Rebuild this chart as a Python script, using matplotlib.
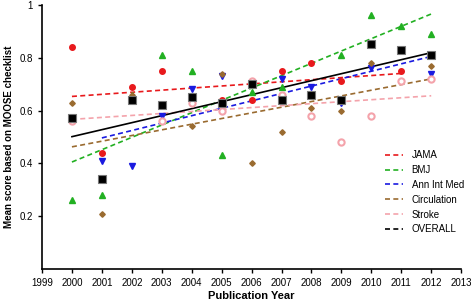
import numpy as np
import matplotlib.pyplot as plt
from matplotlib.lines import Line2D

plt.rcParams['font.family'] = ['Liberation Sans', 'DejaVu Sans']

nan = np.nan
years = np.arange(2000, 2013)

# mean MOOSE scores per journal and year (nan = no paper that year)
jama     = [0.84, 0.44, 0.69, 0.75, 0.64, 0.64, 0.64, 0.75, 0.78, 0.71, nan, 0.75, nan]
bmj      = [0.26, 0.28, 0.66, 0.81, 0.75, 0.43, 0.67, 0.69, nan, 0.81, 0.96, 0.92, 0.89]
ann      = [nan, 0.41, 0.39, 0.58, 0.68, 0.73, 0.70, 0.72, 0.69, 0.63, 0.76, nan, 0.74]
circ     = [0.63, 0.21, 0.66, nan, 0.54, 0.74, 0.40, 0.52, 0.61, 0.60, 0.78, nan, 0.77]
stroke   = [0.56, nan, nan, 0.56, 0.63, 0.60, 0.71, 0.66, 0.58, 0.48, 0.58, 0.71, 0.72]
overall  = [0.57, 0.34, 0.64, 0.62, 0.65, 0.63, 0.70, 0.64, 0.66, 0.64, 0.85, 0.83, 0.81]

labels = ["JAMA", "BMJ", "Ann Int Med", "Circulation", "Stroke", "OVERALL"]
colors = ["#e8191c", "#22b022", "#1a1ae0", "#9a6b30", "#f4a3ab", "black"]

fig = plt.figure(figsize=(4.72, 3.03), dpi=100)
ax = fig.add_axes([0.089, 0.112, 0.888, 0.872])

series = [jama, bmj, ann, circ, stroke, overall]

# regression lines first
for vals, col, lab in zip(series, colors, labels):
    v = np.array(vals, dtype=float)
    ok = ~np.isnan(v)
    x = years[ok]
    k, b = np.polyfit(x, v[ok], 1)
    xx = np.array([x.min(), x.max()])
    if lab == "OVERALL":
        ax.plot(xx, k * xx + b, color=col, lw=1.2, zorder=2)
    else:
        ax.plot(xx, k * xx + b, color=col, lw=1.2, ls=(0, (3, 2)), zorder=2)

# points
ax.plot(years, jama, 'o', color=colors[0], ms=4, zorder=3)
ax.plot(years, bmj, '^', color=colors[1], ms=4, zorder=3)
ax.plot(years, ann, 'v', color=colors[2], ms=4, zorder=3)
ax.plot(years, circ, 'D', color=colors[3], ms=2.8, zorder=3)
ax.plot(years, stroke, 'o', mfc='white', mec=colors[4], mew=1.5, ms=4.5, zorder=3)
ax.plot(years, overall, 's', color='black', mec='#777777', mew=0.8, ms=5.5, zorder=4)

ax.set_xlim(1999, 2013)
ax.set_ylim(0, 1)
ax.set_xticks(np.arange(1999, 2014))
ax.set_yticks([0.2, 0.4, 0.6, 0.8, 1.0])
ax.set_yticklabels(["0.2", "0.4", "0.6", "0.8", "1"])
ax.tick_params(labelsize=7, length=3, width=1)
for s in ["top", "right"]:
    ax.spines[s].set_visible(False)
for s in ["left", "bottom"]:
    ax.spines[s].set_linewidth(1.2)

ax.set_xlabel("Publication Year", fontsize=8, fontweight="bold", labelpad=2)
ax.set_ylabel("Mean score based on MOOSE checklist", fontsize=7, fontweight="bold", labelpad=4)

handles = [Line2D([], [], color=c, lw=1.2, ls=(0, (3, 2))) for c in colors]
ax.legend(handles, labels, loc="upper left", bbox_to_anchor=(0.81, 0.465),
          frameon=False, fontsize=7, handlelength=1.8, handletextpad=0.9,
          labelspacing=0.5, borderaxespad=0)

fig.savefig("out.png", dpi=100)
